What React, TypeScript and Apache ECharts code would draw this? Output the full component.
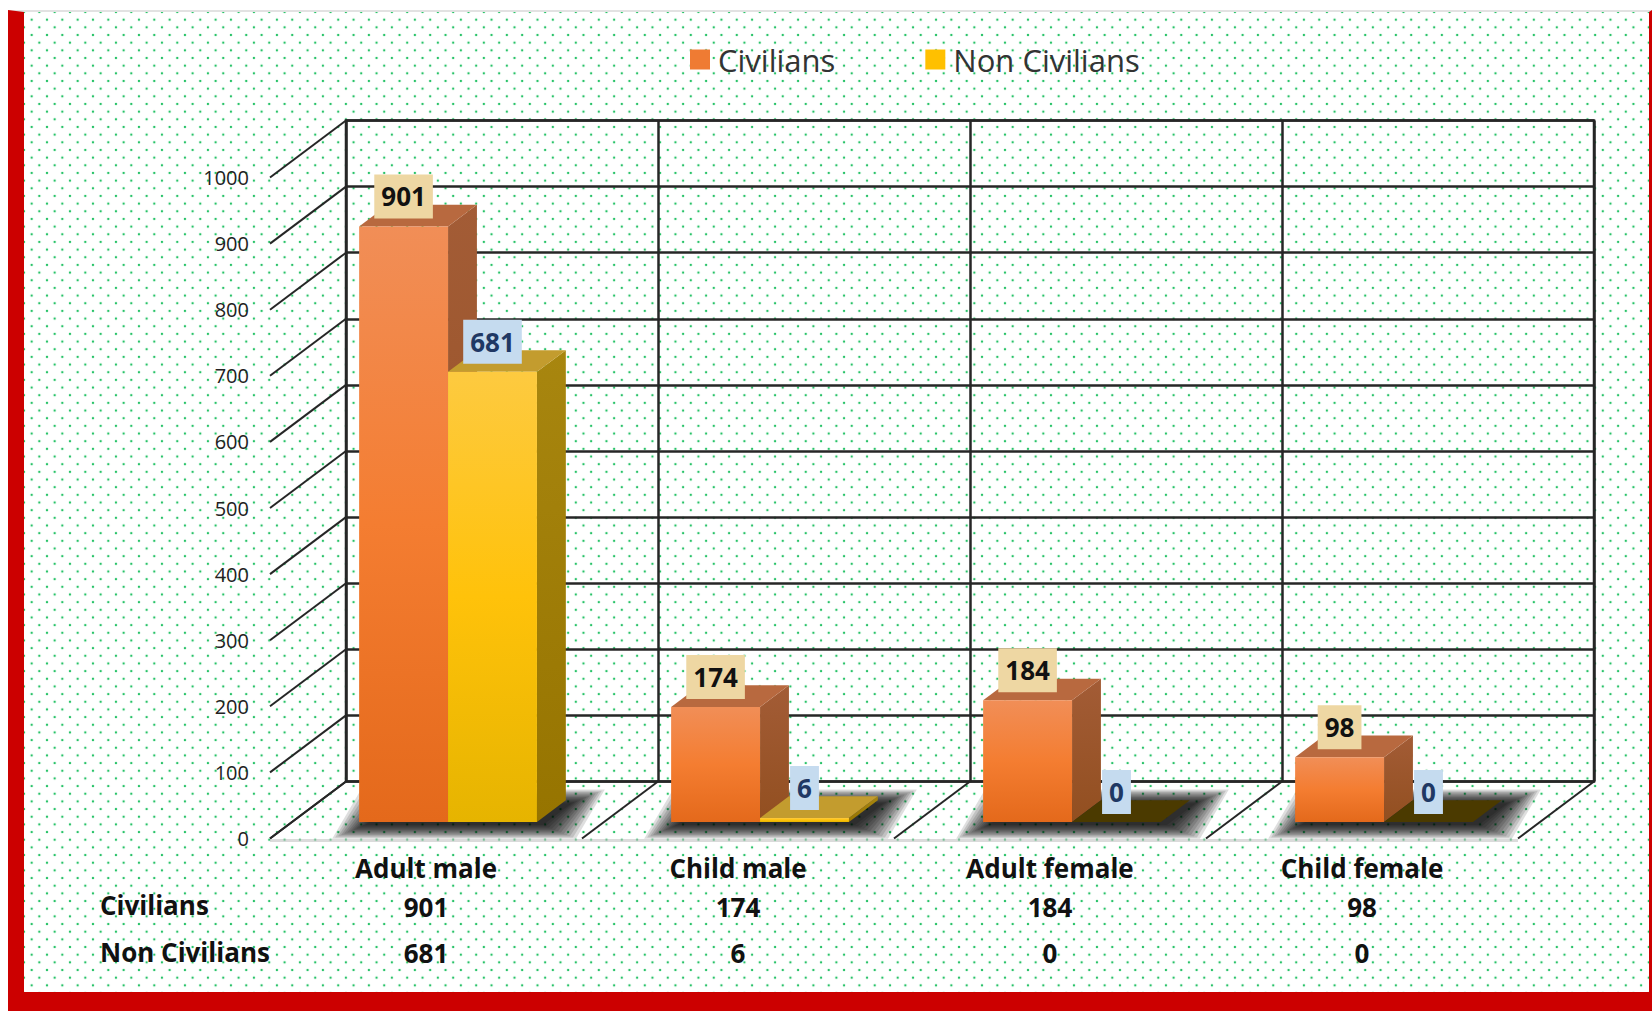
import React, { useEffect, useRef } from "react";
import * as echarts from "echarts";

// ---------------- data ----------------
const categories = ["Adult male", "Child male", "Adult female", "Child female"];
const civilians = [901, 174, 184, 98];
const nonCivilians = [681, 6, 0, 0];
const seriesNames = ["Civilians", "Non Civilians"];
const yTickValues = [0, 100, 200, 300, 400, 500, 600, 700, 800, 900, 1000];
const Y_MIN = 0;
const Y_MAX = 1000;
const Y_STEP = 100;

// ---------------- layout / style ----------------
const FRONT = { left: 270, top: 177.5, width: 1248, height: 661 };
const DEPTH = { x: 76, y: -57 }; // front plane -> back wall
const BACK = { left: FRONT.left + DEPTH.x, top: FRONT.top + DEPTH.y, width: FRONT.width, height: FRONT.height };
const FRONT_F = 0.29; // depth fraction of bar front faces
const BAR_F = 0.38; // depth fraction of bar thickness
const BAR_W_RATIO = 0.285;
const FONT = '"Open Sans", "DejaVu Sans", sans-serif';
const LINE = "#262626";

const barStyles = [
  {
    front: ["#f18e57", "#f47d31", "#e4691b"],
    side: ["#a35c36", "#924f20"],
    top: "#b8693f",
    zeroTop: "#5a3000",
    labelBg: "#eed7a3",
    labelColor: "#111111",
    legend: "#ef7b33",
  },
  {
    front: ["#fdca40", "#ffc20a", "#e6b400"],
    side: ["#a8860f", "#967400"],
    top: "#c39c2e",
    zeroTop: "#4b3a00",
    labelBg: "#c5dbef",
    labelColor: "#1f3864",
    legend: "#ffc000",
  },
];

function barRenderer(sIdx: number) {
  const st = barStyles[sIdx];
  return (params: any, api: any) => {
    const cat = api.value(0);
    const val = api.value(1);
    const base = api.coord([cat, 0]);
    const topPt = api.coord([cat, val]);
    const catW = api.size([1, 0])[0];
    const bw = catW * BAR_W_RATIO;
    const fx = DEPTH.x * FRONT_F;
    const fy = DEPTH.y * FRONT_F;
    const dx = DEPTH.x * BAR_F;
    const dy = DEPTH.y * BAR_F;
    const cx = base[0] + fx;
    const x0 = sIdx === 0 ? cx - bw : cx;
    const x1 = x0 + bw;
    const yB = base[1] + fy;
    const yT = topPt[1] + fy;
    const h = yB - yT;
    const children: any[] = [];
    if (h > 0.5) {
      children.push({
        type: "polygon",
        shape: { points: [[x1, yT], [x1 + dx, yT + dy], [x1 + dx, yB + dy], [x1, yB]] },
        style: {
          fill: new echarts.graphic.LinearGradient(0, 0, 0, 1, [
            { offset: 0, color: st.side[0] },
            { offset: 1, color: st.side[1] },
          ]),
        },
      });
    }
    children.push({
      type: "polygon",
      shape: { points: [[x0, yT], [x1, yT], [x1 + dx, yT + dy], [x0 + dx, yT + dy]] },
      style: { fill: h > 0.5 ? st.top : st.zeroTop },
    });
    if (h > 0.5) {
      children.push({
        type: "rect",
        shape: { x: x0, y: yT, width: bw, height: h },
        style: {
          fill: new echarts.graphic.LinearGradient(0, 0, 0, 1, [
            { offset: 0, color: st.front[0] },
            { offset: 0.5, color: st.front[1] },
            { offset: 1, color: st.front[2] },
          ]),
        },
      });
    }
    children.push({
      type: "text",
      x: (x0 + x1) / 2,
      y: yT - 8,
      style: {
        text: String(val),
        fill: st.labelColor,
        fontFamily: FONT,
        fontWeight: "bold",
        fontSize: 26,
        lineHeight: 30,
        align: "center",
        verticalAlign: "bottom",
        backgroundColor: st.labelBg,
        padding: [7, 7],
      },
    });
    return { type: "group", children };
  };
}

// soft floor shadow under each bar group, built from stacked translucent layers
function shadowRenderer(params: any, api: any) {
  const cat = api.value(0);
  const base = api.coord([cat, 0]);
  const catW = api.size([1, 0])[0];
  const bw = catW * BAR_W_RATIO;
  const fx = DEPTH.x * FRONT_F;
  const fy = DEPTH.y * FRONT_F;
  const dx = DEPTH.x * BAR_F;
  const dy = DEPTH.y * BAR_F;
  const ox = 6;
  const oy = 3;
  const x0 = base[0] + fx - bw + ox;
  const x1 = base[0] + fx + bw + ox;
  const yB = base[1] + fy + oy;
  const children: any[] = [];
  for (let e = 33; e >= 0; e -= 3) {
    const ey = e * 0.42;
    children.push({
      type: "polygon",
      shape: {
        points: [
          [x0 - e, yB + ey],
          [x1 + e, yB + ey],
          [x1 + dx + e, yB + dy - ey],
          [x0 + dx - e, yB + dy - ey],
        ],
      },
      style: { fill: "rgba(0,0,0,0.13)" },
    });
  }
  return { type: "group", children };
}

function wallLineRenderer(params: any, api: any) {
  const v = api.value(1);
  const p = api.coord([0, v]);
  const x = params.coordSys.x;
  return {
    type: "line",
    shape: { x1: x, y1: p[1], x2: x + DEPTH.x, y2: p[1] + DEPTH.y },
    style: { stroke: LINE, lineWidth: 2 },
  };
}

function floorLineRenderer(params: any, api: any) {
  const k = api.value(0);
  const catW = api.size([1, 0])[0];
  const p = api.coord([0, 0]);
  const x = params.coordSys.x + k * catW;
  const children: any[] = [
    {
      type: "line",
      shape: { x1: x, y1: p[1], x2: x + DEPTH.x, y2: p[1] + DEPTH.y },
      style: { stroke: LINE, lineWidth: 2 },
    },
  ];
  if (k < categories.length) {
    children.push({
      type: "line",
      shape: { x1: x, y1: p[1] + 2, x2: x + catW, y2: p[1] + 2 },
      style: { stroke: "rgba(190,190,190,0.55)", lineWidth: 3 },
    });
  }
  return { type: "group", children };
}

const option: any = {
  animation: false,
  backgroundColor: "transparent",
  legend: {
    data: [
      { name: seriesNames[0], icon: "rect", itemStyle: { color: barStyles[0].legend } },
      { name: seriesNames[1], icon: "rect", itemStyle: { color: barStyles[1].legend } },
    ],
    left: 690,
    top: 44,
    padding: 0,
    itemWidth: 20,
    itemHeight: 20,
    itemGap: 90,
    selectedMode: false,
    textStyle: { fontFamily: FONT, fontSize: 31, color: "#333", padding: [0, 0, 0, 3] },
  },
  grid: [
    { ...FRONT, containLabel: false },
    { ...BACK, containLabel: false, show: true, borderColor: LINE, borderWidth: 2.5, backgroundColor: "transparent" },
  ],
  xAxis: [
    {
      type: "category",
      gridIndex: 0,
      data: categories,
      axisLine: { show: false },
      axisTick: { show: false },
      splitLine: { show: false },
      axisLabel: {
        margin: 10,
        interval: 0,
        fontFamily: FONT,
        fontWeight: "bold",
        color: "#111",
        formatter: (value: string, idx: number) =>
          `{c|${value}}\n{v|${civilians[idx]}}\n{w|${nonCivilians[idx]}}`,
        rich: {
          c: { fontFamily: FONT, fontWeight: "bold", fontSize: 26, color: "#111", lineHeight: 38 },
          v: { fontFamily: FONT, fontWeight: "bold", fontSize: 26, color: "#111", lineHeight: 40 },
          w: { fontFamily: FONT, fontWeight: "bold", fontSize: 26, color: "#111", lineHeight: 52 },
        },
      },
    },
    {
      type: "category",
      gridIndex: 1,
      data: categories,
      axisLine: { show: false },
      axisTick: { show: false },
      axisLabel: { show: false },
      splitLine: { show: true, interval: 0, lineStyle: { color: LINE, width: 2.5 } },
    },
    {
      type: "value",
      gridIndex: 0,
      show: false,
      min: 0,
      max: categories.length,
    },
  ],
  yAxis: [
    {
      type: "value",
      gridIndex: 0,
      min: Y_MIN,
      max: Y_MAX,
      interval: Y_STEP,
      axisLine: { show: false },
      axisTick: { show: false },
      splitLine: { show: false },
      axisLabel: {
        margin: 21,
        fontFamily: FONT,
        fontSize: 20,
        color: "#222",
        formatter: (v: number) => String(v),
      },
    },
    {
      type: "value",
      gridIndex: 1,
      min: Y_MIN,
      max: Y_MAX,
      interval: Y_STEP,
      axisLine: { show: false },
      axisTick: { show: false },
      axisLabel: { show: false },
      splitLine: { show: true, lineStyle: { color: LINE, width: 2.5 } },
    },
  ],
  graphic: seriesNames.map((name, i) => ({
    type: "text",
    left: 100,
    top: i === 0 ? 892 : 939,
    style: { text: name, fontFamily: FONT, fontWeight: "bold", fontSize: 26, fill: "#111" },
  })),
  series: [
    {
      type: "custom",
      name: "wall",
      xAxisIndex: 0,
      yAxisIndex: 0,
      z: 1,
      silent: true,
      clip: false,
      renderItem: wallLineRenderer,
      data: yTickValues.map((v) => [0, v]),
    },
    {
      type: "custom",
      name: "floor",
      xAxisIndex: 2,
      yAxisIndex: 0,
      z: 1,
      silent: true,
      clip: false,
      renderItem: floorLineRenderer,
      data: [0, 1, 2, 3, 4].map((k) => [k, 0]),
    },
    {
      type: "custom",
      name: "shadow",
      xAxisIndex: 0,
      yAxisIndex: 0,
      z: 2,
      silent: true,
      clip: false,
      renderItem: shadowRenderer,
      data: categories.map((_, i) => [i, 0]),
    },
    {
      type: "custom",
      name: seriesNames[0],
      xAxisIndex: 0,
      yAxisIndex: 0,
      z: 3,
      clip: false,
      itemStyle: { color: barStyles[0].legend },
      renderItem: barRenderer(0),
      data: civilians.map((v, i) => [i, v]),
    },
    {
      type: "custom",
      name: seriesNames[1],
      xAxisIndex: 0,
      yAxisIndex: 0,
      z: 4,
      clip: false,
      itemStyle: { color: barStyles[1].legend },
      renderItem: barRenderer(1),
      data: nonCivilians.map((v, i) => [i, v]),
    },
  ],
};

const dotImg =
  "radial-gradient(circle, #27c267 0.8px, rgba(255,255,255,0) 1.6px), radial-gradient(circle, #27c267 0.8px, rgba(255,255,255,0) 1.6px)";

export default function App() {
  const ref = useRef<HTMLDivElement>(null);
  useEffect(() => {
    if (!ref.current) return;
    const chart = echarts.init(ref.current, null, { renderer: "svg" });
    chart.setOption(option);
    return () => chart.dispose();
  }, []);
  return (
    <div style={{ position: "fixed", left: 0, top: 0, width: 1652, height: 1011, background: "#fff", overflow: "hidden" }}>
      <div
        style={{
          position: "absolute",
          left: 8,
          top: 10,
          width: 1644,
          height: 1001,
          boxSizing: "border-box",
          borderLeft: "16px solid #cc0000",
          borderBottom: "19px solid #cc0000",
          borderRight: "3px solid #cc0000",
          borderTop: "2px solid #e2e2e2",
          backgroundColor: "#fff",
          backgroundImage: dotImg,
          backgroundSize: "15.33px 15.33px",
          backgroundPosition: "0 0, 7.67px 7.67px",
        }}
      />
      <div ref={ref} style={{ position: "absolute", left: 0, top: 0, width: 1652, height: 1011 }} />
    </div>
  );
}
